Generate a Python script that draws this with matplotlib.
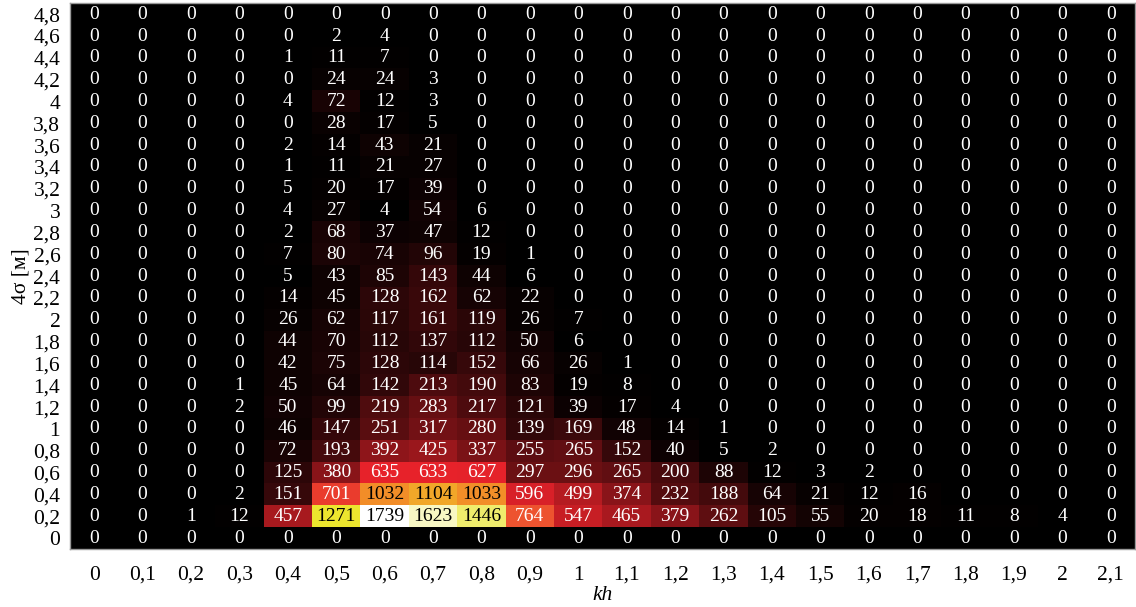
import matplotlib
matplotlib.use('Agg')
import matplotlib.pyplot as plt
from matplotlib.colors import LinearSegmentedColormap
import numpy as np

plt.rcParams['font.family'] = ['Liberation Serif', 'DejaVu Serif']

# kh bins (columns) and 4sigma bins (rows, top to bottom as in the picture)
kh = [0, 0.1, 0.2, 0.3, 0.4, 0.5, 0.6, 0.7, 0.8, 0.9, 1.0,
      1.1, 1.2, 1.3, 1.4, 1.5, 1.6, 1.7, 1.8, 1.9, 2.0, 2.1]
sigma4 = [4.8, 4.6, 4.4, 4.2, 4.0, 3.8, 3.6, 3.4, 3.2, 3.0, 2.8, 2.6, 2.4,
          2.2, 2.0, 1.8, 1.6, 1.4, 1.2, 1.0, 0.8, 0.6, 0.4, 0.2, 0.0]

counts = [
    [0, 0, 0, 0, 0, 0, 0, 0, 0, 0, 0, 0, 0, 0, 0, 0, 0, 0, 0, 0, 0, 0],
    [0, 0, 0, 0, 0, 2, 4, 0, 0, 0, 0, 0, 0, 0, 0, 0, 0, 0, 0, 0, 0, 0],
    [0, 0, 0, 0, 1, 11, 7, 0, 0, 0, 0, 0, 0, 0, 0, 0, 0, 0, 0, 0, 0, 0],
    [0, 0, 0, 0, 0, 24, 24, 3, 0, 0, 0, 0, 0, 0, 0, 0, 0, 0, 0, 0, 0, 0],
    [0, 0, 0, 0, 4, 72, 12, 3, 0, 0, 0, 0, 0, 0, 0, 0, 0, 0, 0, 0, 0, 0],
    [0, 0, 0, 0, 0, 28, 17, 5, 0, 0, 0, 0, 0, 0, 0, 0, 0, 0, 0, 0, 0, 0],
    [0, 0, 0, 0, 2, 14, 43, 21, 0, 0, 0, 0, 0, 0, 0, 0, 0, 0, 0, 0, 0, 0],
    [0, 0, 0, 0, 1, 11, 21, 27, 0, 0, 0, 0, 0, 0, 0, 0, 0, 0, 0, 0, 0, 0],
    [0, 0, 0, 0, 5, 20, 17, 39, 0, 0, 0, 0, 0, 0, 0, 0, 0, 0, 0, 0, 0, 0],
    [0, 0, 0, 0, 4, 27, 4, 54, 6, 0, 0, 0, 0, 0, 0, 0, 0, 0, 0, 0, 0, 0],
    [0, 0, 0, 0, 2, 68, 37, 47, 12, 0, 0, 0, 0, 0, 0, 0, 0, 0, 0, 0, 0, 0],
    [0, 0, 0, 0, 7, 80, 74, 96, 19, 1, 0, 0, 0, 0, 0, 0, 0, 0, 0, 0, 0, 0],
    [0, 0, 0, 0, 5, 43, 85, 143, 44, 6, 0, 0, 0, 0, 0, 0, 0, 0, 0, 0, 0, 0],
    [0, 0, 0, 0, 14, 45, 128, 162, 62, 22, 0, 0, 0, 0, 0, 0, 0, 0, 0, 0, 0, 0],
    [0, 0, 0, 0, 26, 62, 117, 161, 119, 26, 7, 0, 0, 0, 0, 0, 0, 0, 0, 0, 0, 0],
    [0, 0, 0, 0, 44, 70, 112, 137, 112, 50, 6, 0, 0, 0, 0, 0, 0, 0, 0, 0, 0, 0],
    [0, 0, 0, 0, 42, 75, 128, 114, 152, 66, 26, 1, 0, 0, 0, 0, 0, 0, 0, 0, 0, 0],
    [0, 0, 0, 1, 45, 64, 142, 213, 190, 83, 19, 8, 0, 0, 0, 0, 0, 0, 0, 0, 0, 0],
    [0, 0, 0, 2, 50, 99, 219, 283, 217, 121, 39, 17, 4, 0, 0, 0, 0, 0, 0, 0, 0, 0],
    [0, 0, 0, 0, 46, 147, 251, 317, 280, 139, 169, 48, 14, 1, 0, 0, 0, 0, 0, 0, 0, 0],
    [0, 0, 0, 0, 72, 193, 392, 425, 337, 255, 265, 152, 40, 5, 2, 0, 0, 0, 0, 0, 0, 0],
    [0, 0, 0, 0, 125, 380, 635, 633, 627, 297, 296, 265, 200, 88, 12, 3, 2, 0, 0, 0, 0, 0],
    [0, 0, 0, 2, 151, 701, 1032, 1104, 1033, 596, 499, 374, 232, 188, 64, 21, 12, 16, 0, 0, 0, 0],
    [0, 0, 1, 12, 457, 1271, 1739, 1623, 1446, 764, 547, 465, 379, 262, 105, 55, 20, 18, 11, 8, 4, 0],
    [0, 0, 0, 0, 0, 0, 0, 0, 0, 0, 0, 0, 0, 0, 0, 0, 0, 0, 0, 0, 0, 0],
]


def fmt(v):
    # десятичная запятая
    return f"{v:g}".replace('.', ',')


# "hot"-like map that starts from pure black
cmap = LinearSegmentedColormap.from_list('hot_black', [
    (0.00, '#000000'),
    (0.365, '#e8232b'),
    (0.45, '#ee5a30'),
    (0.60, '#f39028'),
    (0.73, '#ece52c'),
    (0.85, '#f0ee78'),
    (1.00, '#ffffff'),
])

data = np.array(counts)
fig = plt.figure(figsize=(11.36, 6.07), dpi=100)
ax = fig.add_axes([0.0616, 0.0956, 0.9375, 0.899])

ax.imshow(data, cmap=cmap, aspect='auto', interpolation='nearest',
          vmin=0, vmax=data.max())

for i in range(data.shape[0]):
    for j in range(data.shape[1]):
        v = data[i, j]
        color = 'black' if v > 1000 else 'white'
        ax.text(j, i, str(v), ha='center', va='center', color=color, fontsize=14)

ax.set_xticks(range(len(kh)))
ax.set_xticklabels([fmt(v) for v in kh], fontsize=15.5)
ax.set_yticks(range(len(sigma4)))
ax.set_yticklabels([fmt(v) for v in sigma4], fontsize=15.5)
ax.tick_params(length=0, pad=7)
ax.tick_params(axis='x', pad=12)

ax.set_xlabel('kh', fontsize=15.5, style='italic', labelpad=1)
ax.set_ylabel('4σ [м]', fontsize=15.5, labelpad=2)

for s in ax.spines.values():
    s.set_color('#999999')
    s.set_linewidth(1)

fig.savefig('out.png', dpi=100)
